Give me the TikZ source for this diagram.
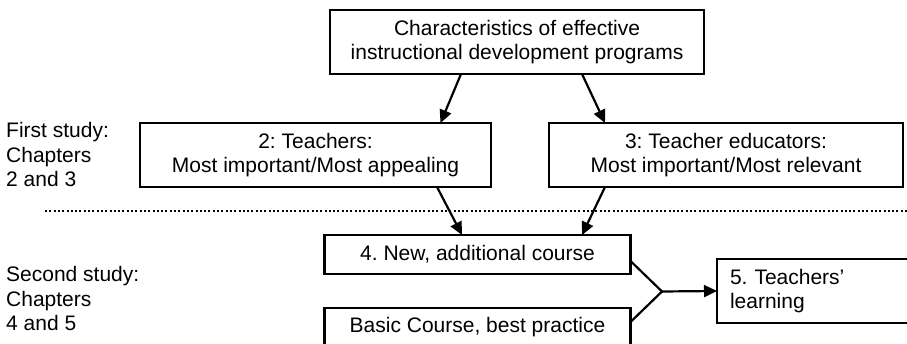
\documentclass[tikz,border=0pt]{standalone}
\usepackage{fontspec}
\setmainfont{Liberation Sans}
\usetikzlibrary{arrows.meta}
\frenchspacing
\begin{document}
\begin{tikzpicture}[x=1pt,y=-1pt,
  every node/.style={font=\fontsize{21}{24.5}\selectfont\frenchspacing},
  box/.style={draw, line width=2.2pt, inner sep=0pt, outer sep=0pt, align=center},
  arr/.style={line width=2.2pt, -{Triangle[length=13pt,width=12pt]}},
  link/.style={line width=2.2pt},
  label/.style={anchor=base west, inner sep=0pt}]
\useasboundingbox (0,0) rectangle (907,344);
% boxes
\node[box, minimum width=374pt, minimum height=64pt] (top) at (517,42) {Characteristics of effective\\instructional development programs};
\node[box, minimum width=351pt, minimum height=64pt] (t2) at (315.5,155) {2: Teachers:\\Most important/Most appealing};
\node[box, minimum width=354pt, minimum height=64pt] (t3) at (726,155) {3: Teacher educators:\\Most important/Most relevant};
\node[box, minimum width=306pt, minimum height=39pt] (c4) at (477.5,254.5) {4. New, additional course};
\node[box, minimum width=306pt, minimum height=39pt] (cb) at (477.5,327.5) {Basic Course, best practice};
\node[box, anchor=north west, minimum height=64pt, text width=170pt, align=left, inner xsep=13pt] (c5) at (717,259) {5. Teachers’\\learning};
% side labels
\node[label] (l1) at (6,138) {\begin{tabular}[t]{@{}l@{}}First study:\\Chapters\\2 and 3\end{tabular}};
\node[label] (l2) at (6,281.7) {\begin{tabular}[t]{@{}l@{}}Second study:\\Chapters\\4 and 5\end{tabular}};
% dotted divider
\coordinate (dl) at (45,210.7);
\coordinate (dr) at (907,210.7);
\draw[line width=2pt, dash pattern=on 2pt off 2.3pt] (dl) -- (dr);
% arrows
\draw[arr] ([xshift=-56pt]top.south) -- ([xshift=125pt]t2.north);
\draw[arr] ([xshift=65pt]top.south) -- ([xshift=-121pt]t3.north);
\draw[arr] ([xshift=121.5pt]t2.south) -- ([xshift=-15.5pt]c4.north);
\draw[arr] ([xshift=-121pt]t3.south) -- ([xshift=104.5pt]c4.north);
% junction
\coordinate (j) at (662,291.5);
\draw[link] ([yshift=-6.5pt]c4.east) -- (j) -- ([yshift=5.5pt]cb.east);
\draw[arr] (j) -- (c5.west);
\end{tikzpicture}
\end{document}
